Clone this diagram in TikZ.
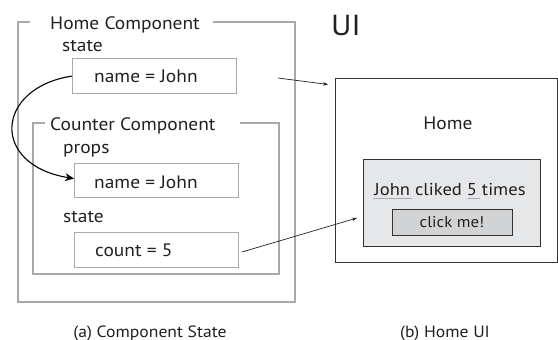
\documentclass[tikz,border=0pt]{standalone}
\usepackage{fontspec}
\setmainfont{PT Sans}[FakeStretch=1.08]
\usetikzlibrary{arrows.meta}
\definecolor{framegray}{RGB}{167,169,172}
\definecolor{inkdark}{RGB}{35,31,32}
\definecolor{uiframe}{RGB}{51,51,51}
\definecolor{uifill}{RGB}{230,231,232}
\definecolor{btnfill}{RGB}{209,211,212}
\tikzset{
  frame/.style={draw=framegray, line width=1.1pt},
  valbox/.style={draw=framegray, line width=1.1pt, fill=white, minimum width=164pt, minimum height=35pt, anchor=north west, inner sep=0pt},
  lbl/.style={anchor=base west, inner sep=0pt, text=inkdark, font=\fontsize{18}{21}\selectfont},
  captext/.style={anchor=base, inner sep=0pt, text=inkdark, font=\fontsize{16.3}{19}\selectfont},
  thinarrow/.style={draw=inkdark, line width=0.7pt, -{Stealth[length=5pt,width=3.5pt]}},
  bigarrow/.style={draw=black, line width=1.1pt, -{Stealth[length=9pt,width=8pt]}},
  uibox/.style={draw=uiframe, anchor=north west, inner sep=0pt}
}
\begin{document}
\begin{tikzpicture}[x=1pt,y=-1pt]
\useasboundingbox (0,0) rectangle (558,340);
% outer frame
\draw[frame] (30,22) -- (18,22) -- (18,302) -- (295,302) -- (295,22) -- (213,22);
\node[lbl] (homet) at (50,29) {Home Component};
\node[lbl] (st1) at (62,52) {state};
\node[valbox] (b1) at (72,58) {};
\node[lbl] (b1t) at (94,82) {name = John};
% inner frame
\draw[frame] (45,123) -- (33,123) -- (33,274) -- (279,274) -- (279,123) -- (240,123);
\node[lbl] (cntt) at (50,130) {Counter Component};
\node[lbl] (props) at (63,153) {props};
\node[valbox, minimum height=34pt] (b2) at (74,163) {};
\node[lbl] (b2t) at (94,188) {name = John};
\node[lbl] (st2) at (63,222) {state};
\node[valbox] (b3) at (74,232) {};
\node[lbl] (b3t) at (95,256) {count = 5};
% UI
\node[anchor=base west, inner sep=0pt, text=inkdark, font=\fontsize{29}{34}\selectfont] (uit) at (331,35) {UI};
\node[uibox, line width=1.4pt, minimum width=222pt, minimum height=184pt] (home) at (334.5,78) {};
\node[anchor=center, inner sep=0pt, text=inkdark, font=\fontsize{18}{21}\selectfont] (homel) at (448,123) {Home};
\node[uibox, line width=1.2pt, fill=uifill, minimum width=177pt, minimum height=87pt] (inner) at (363,159) {};
\node[anchor=base, inner sep=0pt, text=inkdark, font=\fontsize{17.2}{20}\selectfont] (msg) at (450,195) {John cliked 5 times};
\coordinate (u1a) at (373,198.5);
\coordinate (u1b) at (412,198.5);
\coordinate (u2a) at (468,198.5);
\coordinate (u2b) at (480,198.5);
\draw[framegray, line width=1.3pt] (u1a) -- (u1b);
\draw[framegray, line width=1.3pt] (u2a) -- (u2b);
\node[uibox, line width=1.2pt, fill=btnfill, minimum width=120pt, minimum height=26pt] (btn) at (392,209) {};
\node[anchor=center, inner sep=0pt, text=inkdark, font=\fontsize{15.6}{18}\selectfont] (btnt) at (452,222) {click me!};
% connectors
\coordinate (a1s) at (278,78);
\coordinate (a1e) at (328,84.5);
\draw[thinarrow] (a1s) -- (a1e);
\coordinate (a2s) at (242,252);
\coordinate (a2e) at (357,218);
\draw[thinarrow] (a2s) -- (a2e);
\draw[bigarrow] (b1.west) .. controls (-5,88) and (-10,165) .. ([yshift=2pt]b2.west);
% captions
\node[captext] (capa) at (150,337) {(a) Component State};
\node[captext] (capb) at (445,337) {(b) Home UI};
\end{tikzpicture}
\end{document}
